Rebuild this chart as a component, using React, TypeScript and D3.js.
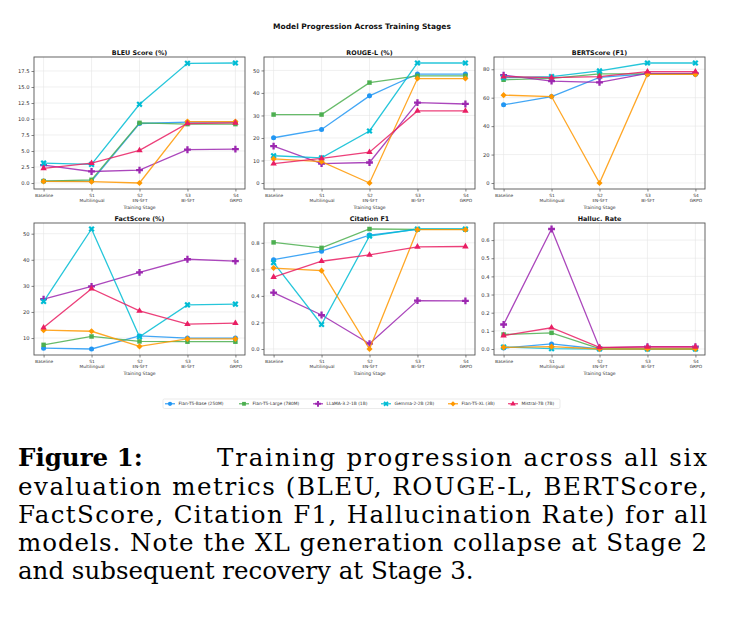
import { useEffect, useRef } from "react";
import * as d3 from "d3";

const stageCodes = ["Baseline", "S1", "S2", "S3", "S4"];
const stageNames = ["", "Multilingual", "EN-SFT", "BI-SFT", "GRPO"];

const modelNames = [
  "Flan-T5-Base (250M)",
  "Flan-T5-Large (780M)",
  "LLaMA-3.2-1B (1B)",
  "Gemma-2-2B (2B)",
  "Flan-T5-XL (3B)",
  "Mistral-7B (7B)",
];
const modelColors = ["#2196F3", "#4CAF50", "#9C27B0", "#00BCD4", "#FF9800", "#E91E63"];

// one row per model, one value per stage
const bleu = [
  [0.3, 0.3, 9.3, 9.5, 9.5],
  [0.3, 0.5, 9.4, 9.2, 9.2],
  [2.8, 1.8, 2.0, 5.2, 5.3],
  [3.1, 2.9, 12.3, 18.7, 18.75],
  [0.25, 0.2, 0.0, 9.6, 9.6],
  [2.3, 3.1, 5.1, 9.3, 9.4],
];
const rouge = [
  [20.1, 23.8, 38.7, 48.4, 48.4],
  [30.4, 30.4, 44.6, 47.6, 47.6],
  [16.4, 8.6, 9.1, 35.7, 35.1],
  [12.1, 11.2, 23.1, 53.3, 53.3],
  [10.7, 9.5, 0.0, 46.4, 46.4],
  [8.6, 10.9, 13.7, 32.0, 32.0],
];
const bert = [
  [55.0, 60.8, 74.3, 76.7, 76.7],
  [72.6, 73.6, 76.7, 76.7, 76.7],
  [75.9, 71.7, 70.8, 77.1, 77.1],
  [74.1, 74.8, 78.8, 84.4, 84.4],
  [61.8, 60.8, 0.0, 76.4, 76.4],
  [74.8, 74.1, 74.8, 78.3, 78.3],
];
const fact = [
  [6.1, 5.8, 10.8, 10.0, 10.0],
  [7.4, 10.6, 8.7, 8.6, 8.6],
  [24.9, 29.8, 35.2, 40.2, 39.5],
  [24.0, 51.8, 10.5, 22.7, 23.0],
  [13.0, 12.6, 6.8, 9.7, 9.7],
  [14.0, 28.9, 20.4, 15.3, 15.7],
];
const citation = [
  [0.673, 0.737, 0.858, 0.901, 0.901],
  [0.803, 0.762, 0.904, 0.901, 0.901],
  [0.425, 0.256, 0.04, 0.365, 0.362],
  [0.651, 0.185, 0.851, 0.904, 0.904],
  [0.61, 0.59, 0.0, 0.899, 0.899],
  [0.542, 0.661, 0.709, 0.77, 0.772],
];
const halluc = [
  [0.005, 0.028, 0.0, 0.0, 0.0],
  [0.08, 0.089, 0.002, 0.0, 0.0],
  [0.135, 0.661, 0.006, 0.013, 0.013],
  [0.011, 0.002, 0.0, 0.0, 0.0],
  [0.009, 0.013, 0.0, 0.0, 0.0],
  [0.074, 0.117, 0.009, 0.011, 0.011],
];

const bleuTicks = [0, 2.5, 5, 7.5, 10, 12.5, 15, 17.5];
const rougeTicks = [0, 10, 20, 30, 40, 50];
const bertTicks = [0, 20, 40, 60, 80];
const factTicks = [10, 20, 30, 40, 50];
const citationTicks = [0, 0.2, 0.4, 0.6, 0.8];
const hallucTicks = [0, 0.1, 0.2, 0.3, 0.4, 0.5, 0.6];

const captionLines = [
  "Training progression across all six",
  "evaluation metrics (BLEU, ROUGE-L, BERTScore,",
  "FactScore, Citation F1, Hallucination Rate) for all",
  "models.  Note the XL generation collapse at Stage 2",
  "and subsequent recovery at Stage 3.",
];

const panels = [
  { title: "BLEU Score (%)", values: bleu, ticks: bleuTicks, fmt: ".1f" },
  { title: "ROUGE-L (%)", values: rouge, ticks: rougeTicks, fmt: "d" },
  { title: "BERTScore (F1)", values: bert, ticks: bertTicks, fmt: "d" },
  { title: "FactScore (%)", values: fact, ticks: factTicks, fmt: "d" },
  { title: "Citation F1", values: citation, ticks: citationTicks, fmt: ".1f" },
  { title: "Halluc. Rate", values: halluc, ticks: hallucTicks, fmt: ".1f" },
];

const symbolPaths = [
  d3.symbol(d3.symbolCircle, 20)(),
  d3.symbol(d3.symbolSquare, 20)(),
  d3.symbol(d3.symbolCross, 26)(),
  d3.symbol(d3.symbolCross, 24)(),
  d3.symbol(d3.symbolDiamond2, 24)(),
  d3.symbol(d3.symbolTriangle, 18)(),
];
const symbolRotate = [0, 0, 0, 45, 0, 0];

const W = 729;
const H = 632;

const App = () => {
  const ref = useRef<SVGSVGElement | null>(null);

  useEffect(() => {
    if (!ref.current) return;
    const svg = d3.select(ref.current);
    svg.selectAll("*").remove();

    const sans = "DejaVu Sans, sans-serif";
    const colLeft = [34, 264, 494];
    const rowTop = [57, 223];
    const pw = 211;
    const ph = 132;

    svg
      .append("text")
      .attr("x", 362)
      .attr("y", 28.5)
      .attr("text-anchor", "middle")
      .attr("font-family", sans)
      .attr("font-weight", "bold")
      .attr("font-size", 7.5)
      .attr("fill", "#111")
      .text("Model Progression Across Training Stages");

    panels.forEach((p, i) => {
      const left = colLeft[i % 3];
      const top = rowTop[Math.floor(i / 3)];
      const bottom = top + ph;
      const g = svg.append("g");

      const x = d3
        .scalePoint<string>()
        .domain(stageCodes)
        .range([left, left + pw])
        .padding(0.2);

      const all = p.values.flat();
      const lo = d3.min(all)!;
      const hi = d3.max(all)!;
      const pad = (hi - lo) * 0.05;
      const y = d3.scaleLinear().domain([lo - pad, hi + pad]).range([bottom, top]);

      // grid
      g.append("g")
        .selectAll("line")
        .data(p.ticks)
        .join("line")
        .attr("x1", left)
        .attr("x2", left + pw)
        .attr("y1", (d) => y(d))
        .attr("y2", (d) => y(d))
        .attr("stroke", "#e6e6e6")
        .attr("stroke-width", 0.6);
      g.append("g")
        .selectAll("line")
        .data(stageCodes)
        .join("line")
        .attr("x1", (d) => x(d)!)
        .attr("x2", (d) => x(d)!)
        .attr("y1", top)
        .attr("y2", bottom)
        .attr("stroke", "#e6e6e6")
        .attr("stroke-width", 0.6);

      // y axis
      const ya = g
        .append("g")
        .attr("transform", `translate(${left},0)`)
        .call(
          d3
            .axisLeft(y)
            .tickValues(p.ticks)
            .tickSize(2.5)
            .tickPadding(2)
            .tickFormat(d3.format(p.fmt) as any)
        );
      ya.select(".domain").remove();
      ya.selectAll("line").attr("stroke", "#333").attr("stroke-width", 0.6);
      ya.selectAll("text")
        .attr("font-family", sans)
        .attr("font-size", 5.2)
        .attr("fill", "#333");

      // x axis, two-line stage labels
      const xa = g
        .append("g")
        .attr("transform", `translate(0,${bottom})`)
        .call(d3.axisBottom(x).tickSize(2.5).tickPadding(2));
      xa.select(".domain").remove();
      xa.selectAll("line").attr("stroke", "#333").attr("stroke-width", 0.6);
      xa.selectAll<SVGTextElement, string>("text")
        .attr("font-family", sans)
        .attr("font-size", 4.3)
        .attr("fill", "#333")
        .attr("dy", null)
        .attr("y", 7.5)
        .text(null)
        .each(function (d, k) {
          const t = d3.select(this);
          t.append("tspan").attr("x", 0).text(d);
          if (stageNames[k])
            t.append("tspan").attr("x", 0).attr("dy", 5.2).text(stageNames[k]);
        });

      g.append("text")
        .attr("x", left + pw / 2)
        .attr("y", bottom + 20)
        .attr("text-anchor", "middle")
        .attr("font-family", sans)
        .attr("font-size", 4.5)
        .attr("fill", "#333")
        .text("Training Stage");

      // series
      const line = d3
        .line<number>()
        .x((_, k) => x(stageCodes[k])!)
        .y((d) => y(d));

      p.values.forEach((vals, m) => {
        const s = g.append("g");
        s.append("path")
          .attr("d", line(vals))
          .attr("fill", "none")
          .attr("stroke", modelColors[m])
          .attr("stroke-width", 1.3)
          .attr("opacity", 0.85);
        s.selectAll("path.pt")
          .data(vals)
          .join("path")
          .attr("class", "pt")
          .attr("d", symbolPaths[m])
          .attr(
            "transform",
            (d, k) => `translate(${x(stageCodes[k])},${y(d)}) rotate(${symbolRotate[m]})`
          )
          .attr("fill", modelColors[m]);
      });

      // frame
      g.append("rect")
        .attr("x", left)
        .attr("y", top)
        .attr("width", pw)
        .attr("height", ph)
        .attr("fill", "none")
        .attr("stroke", "#555")
        .attr("stroke-width", 0.9);

      g.append("text")
        .attr("x", left + pw / 2)
        .attr("y", top - 2.5)
        .attr("text-anchor", "middle")
        .attr("font-family", sans)
        .attr("font-weight", "bold")
        .attr("font-size", 6.4)
        .attr("fill", "#111")
        .text(p.title);
    });

    // legend
    const lg = svg.append("g");
    lg.append("rect")
      .attr("x", 163)
      .attr("y", 399)
      .attr("width", 397)
      .attr("height", 9.5)
      .attr("rx", 1.5)
      .attr("fill", "white")
      .attr("stroke", "#ddd")
      .attr("stroke-width", 0.6);
    const legendX = [170, 244, 318, 386, 453, 513];
    modelNames.forEach((name, m) => {
      const cx = legendX[m];
      lg.append("line")
        .attr("x1", cx - 5)
        .attr("x2", cx + 5)
        .attr("y1", 403.8)
        .attr("y2", 403.8)
        .attr("stroke", modelColors[m])
        .attr("stroke-width", 1.1);
      lg.append("path")
        .attr("d", symbolPaths[m])
        .attr("transform", `translate(${cx},403.8) rotate(${symbolRotate[m]}) scale(0.85)`)
        .attr("fill", modelColors[m]);
      lg.append("text")
        .attr("x", cx + 8.5)
        .attr("y", 405.4)
        .attr("font-family", sans)
        .attr("font-size", 4.4)
        .attr("fill", "#333")
        .text(name);
    });

    // caption, justified lines
    const serif = "DejaVu Serif, serif";
    const cap = svg
      .append("g")
      .attr("font-family", serif)
      .attr("font-size", 24.5)
      .attr("fill", "#000");
    cap.append("text")
      .attr("x", 18)
      .attr("y", 466)
      .attr("font-weight", "bold")
      .text("Figure 1:");
    cap.append("text")
      .attr("x", 217)
      .attr("y", 466)
      .attr("textLength", 490)
      .attr("lengthAdjust", "spacing")
      .text(captionLines[0]);
    captionLines.slice(1).forEach((ln, k) => {
      const last = k === captionLines.length - 2;
      const t = cap.append("text").attr("x", 18).attr("y", 494.5 + k * 28.3).text(ln);
      if (!last) t.attr("textLength", 689).attr("lengthAdjust", "spacing");
    });
  }, []);

  return (
    <svg
      ref={ref}
      width={W}
      height={H}
      style={{ position: "absolute", left: 0, top: 0, background: "white", display: "block" }}
    />
  );
};

export default App;
